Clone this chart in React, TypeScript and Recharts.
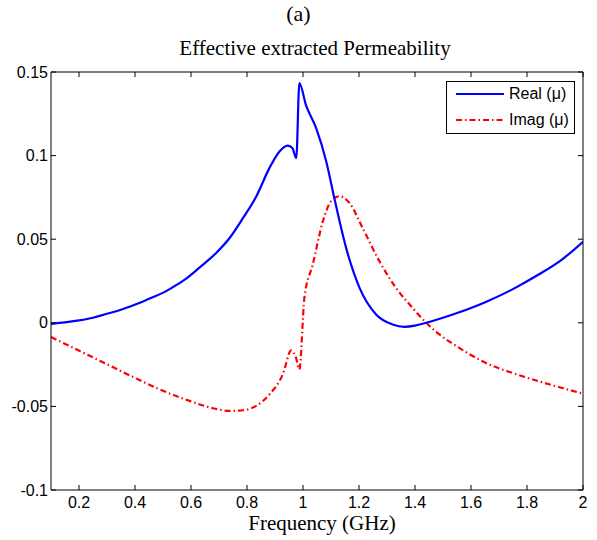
import React from 'react';
import { LineChart, Line, XAxis, YAxis } from 'recharts';

// Real part of the effective permeability (blue, solid)
const realFreq = [
  0.1, 0.15, 0.2, 0.25, 0.3, 0.35, 0.383, 0.42, 0.455, 0.513, 0.55, 0.584, 0.631, 0.69, 0.738, 0.786,
  0.833, 0.88, 0.916, 0.946, 0.962, 0.976, 0.987, 1.011, 1.047, 1.083, 1.113, 1.154, 1.202, 1.261,
  1.32, 1.362, 1.4, 1.44, 1.5, 1.558, 1.653, 1.748, 1.843, 1.926, 2.0,
];
const realVal = [
  -0.0006, 0.0002, 0.0014, 0.003, 0.0054, 0.0078, 0.0098, 0.0122, 0.0147, 0.0191, 0.0228, 0.0266, 0.0331,
  0.0418, 0.0507, 0.0627, 0.0756, 0.0925, 0.1025, 0.106, 0.1045, 0.0985, 0.1433, 0.13, 0.1164, 0.0965,
  0.0737, 0.0448, 0.0209, 0.005, -0.001, -0.0024, -0.0017, 0, 0.003, 0.0063, 0.0125, 0.02, 0.029, 0.038,
  0.0485,
];

// Imaginary part (red, dash-dot)
const imagFreq = [
  0.1, 0.203, 0.3, 0.393, 0.488, 0.595, 0.679, 0.738, 0.786, 0.833, 0.881, 0.928, 0.958, 0.975, 0.987,
  1.005, 1.035, 1.071, 1.1, 1.13, 1.166, 1.213, 1.273, 1.332, 1.391, 1.44, 1.48, 1.558, 1.653, 1.748,
  1.843, 1.926, 2.0,
];
const imagVal = [
  -0.0085, -0.0169, -0.0248, -0.0324, -0.0398, -0.0467, -0.0511, -0.0527, -0.0523, -0.0497, -0.0427,
  -0.0308, -0.0165, -0.021, -0.0279, 0.015, 0.035, 0.0607, 0.0727, 0.0757, 0.0717, 0.0567, 0.0368,
  0.0209, 0.009, 0, -0.006, -0.015, -0.024, -0.03, -0.035, -0.039, -0.0424,
];

const xTicks = [0.2, 0.4, 0.6, 0.8, 1, 1.2, 1.4, 1.6, 1.8, 2];
const yTicks = [-0.1, -0.05, 0, 0.05, 0.1, 0.15];
const seriesNames = ['Real (\u03bc)', 'Imag (\u03bc)'];

const realData = realFreq.map((f, i) => ({ f, v: realVal[i] }));
const imagData = imagFreq.map((f, i) => ({ f, v: imagVal[i] }));

const W = 597;
const H = 540;
const SANS = '"Liberation Sans", Arial, sans-serif';
const SERIF = '"Liberation Serif", "Times New Roman", serif';
const TICK = 5;

const BottomTick = (p: any) => (
  <g>
    <line x1={p.x} y1={p.y} x2={p.x} y2={p.y - TICK} stroke="#000" />
    <text x={p.x} y={p.y + 18} textAnchor="middle" fontFamily={SANS} fontSize={16} fill="#000">
      {String(p.payload.value)}
    </text>
  </g>
);
const TopTick = (p: any) => <line x1={p.x} y1={p.y} x2={p.x} y2={p.y + TICK} stroke="#000" />;
const LeftTick = (p: any) => (
  <g>
    <line x1={p.x} y1={p.y} x2={p.x + TICK} y2={p.y} stroke="#000" />
    <text x={p.x - 3} y={p.y + 5.5} textAnchor="end" fontFamily={SANS} fontSize={16} fill="#000">
      {String(p.payload.value)}
    </text>
  </g>
);
const RightTick = (p: any) => <line x1={p.x} y1={p.y} x2={p.x - TICK} y2={p.y} stroke="#000" />;

const App: React.FC = () => (
  <div style={{ position: 'absolute', left: 0, top: 0, width: W, height: H, background: '#fff' }}>
    <div style={{ position: 'absolute', left: 0, width: W, top: 3, textAlign: 'center', fontFamily: SERIF, fontSize: 22, lineHeight: '22px' }}>
      (a)
    </div>
    <div style={{ position: 'absolute', left: 33, width: W - 33, top: 38, textAlign: 'center', fontFamily: SERIF, fontSize: 21, lineHeight: '21px' }}>
      Effective extracted Permeability
    </div>
    <LineChart width={W} height={H} margin={{ top: 62, right: 4, bottom: 20, left: 11 }}>
      <XAxis
        xAxisId="b"
        dataKey="f"
        type="number"
        domain={[0.1, 2]}
        ticks={xTicks}
        allowDataOverflow
        height={30}
        tickSize={0}
        tickMargin={0}
        tickLine={false}
        axisLine={{ stroke: '#000' }}
        tick={BottomTick}
        interval={0}
      />
      <XAxis
        xAxisId="t"
        orientation="top"
        dataKey="f"
        type="number"
        domain={[0.1, 2]}
        ticks={xTicks}
        allowDataOverflow
        height={10}
        tickSize={0}
        tickMargin={0}
        tickLine={false}
        axisLine={{ stroke: '#000' }}
        tick={TopTick}
        interval={0}
      />
      <YAxis
        yAxisId="l"
        type="number"
        domain={[-0.1, 0.15]}
        ticks={yTicks}
        allowDataOverflow
        width={40}
        tickSize={0}
        tickMargin={0}
        tickLine={false}
        axisLine={{ stroke: '#000' }}
        tick={LeftTick}
        interval={0}
      />
      <YAxis
        yAxisId="r"
        orientation="right"
        type="number"
        domain={[-0.1, 0.15]}
        ticks={yTicks}
        allowDataOverflow
        width={10}
        tickSize={0}
        tickMargin={0}
        tickLine={false}
        axisLine={{ stroke: '#000' }}
        tick={RightTick}
        interval={0}
      />
      <Line
        xAxisId="b"
        yAxisId="l"
        data={imagData}
        dataKey="v"
        name={seriesNames[1]}
        type="monotone"
        stroke="#ff0000"
        strokeWidth={2.2}
        strokeDasharray="6 3 1.5 3"
        dot={false}
        isAnimationActive={false}
      />
      <Line
        xAxisId="b"
        yAxisId="l"
        data={realData}
        dataKey="v"
        name={seriesNames[0]}
        type="monotone"
        stroke="#0000ff"
        strokeWidth={2.2}
        dot={false}
        isAnimationActive={false}
      />
    </LineChart>
    <div style={{ position: 'absolute', left: 47, width: W - 47, top: 513, textAlign: 'center', fontFamily: SERIF, fontSize: 21, lineHeight: '21px' }}>
      Frequency (GHz)
    </div>
    <div
      style={{
        position: 'absolute',
        left: 446,
        top: 81,
        width: 129,
        height: 53,
        border: '1px solid #000',
        background: '#fff',
        boxSizing: 'border-box',
        fontFamily: SANS,
        fontSize: 16,
      }}
    >
      {seriesNames.map((n, i) => (
        <div key={n} style={{ position: 'absolute', left: 9, top: i === 0 ? 3 : 29, height: 18, display: 'flex', alignItems: 'center' }}>
          <svg width={48} height={4} style={{ marginRight: 5 }}>
            <line
              x1={0}
              y1={2}
              x2={48}
              y2={2}
              stroke={i === 0 ? '#0000ff' : '#ff0000'}
              strokeWidth={2.2}
              strokeDasharray={i === 0 ? undefined : '6 3 1.5 3'}
            />
          </svg>
          <span>{n}</span>
        </div>
      ))}
    </div>
  </div>
);

export default App;
